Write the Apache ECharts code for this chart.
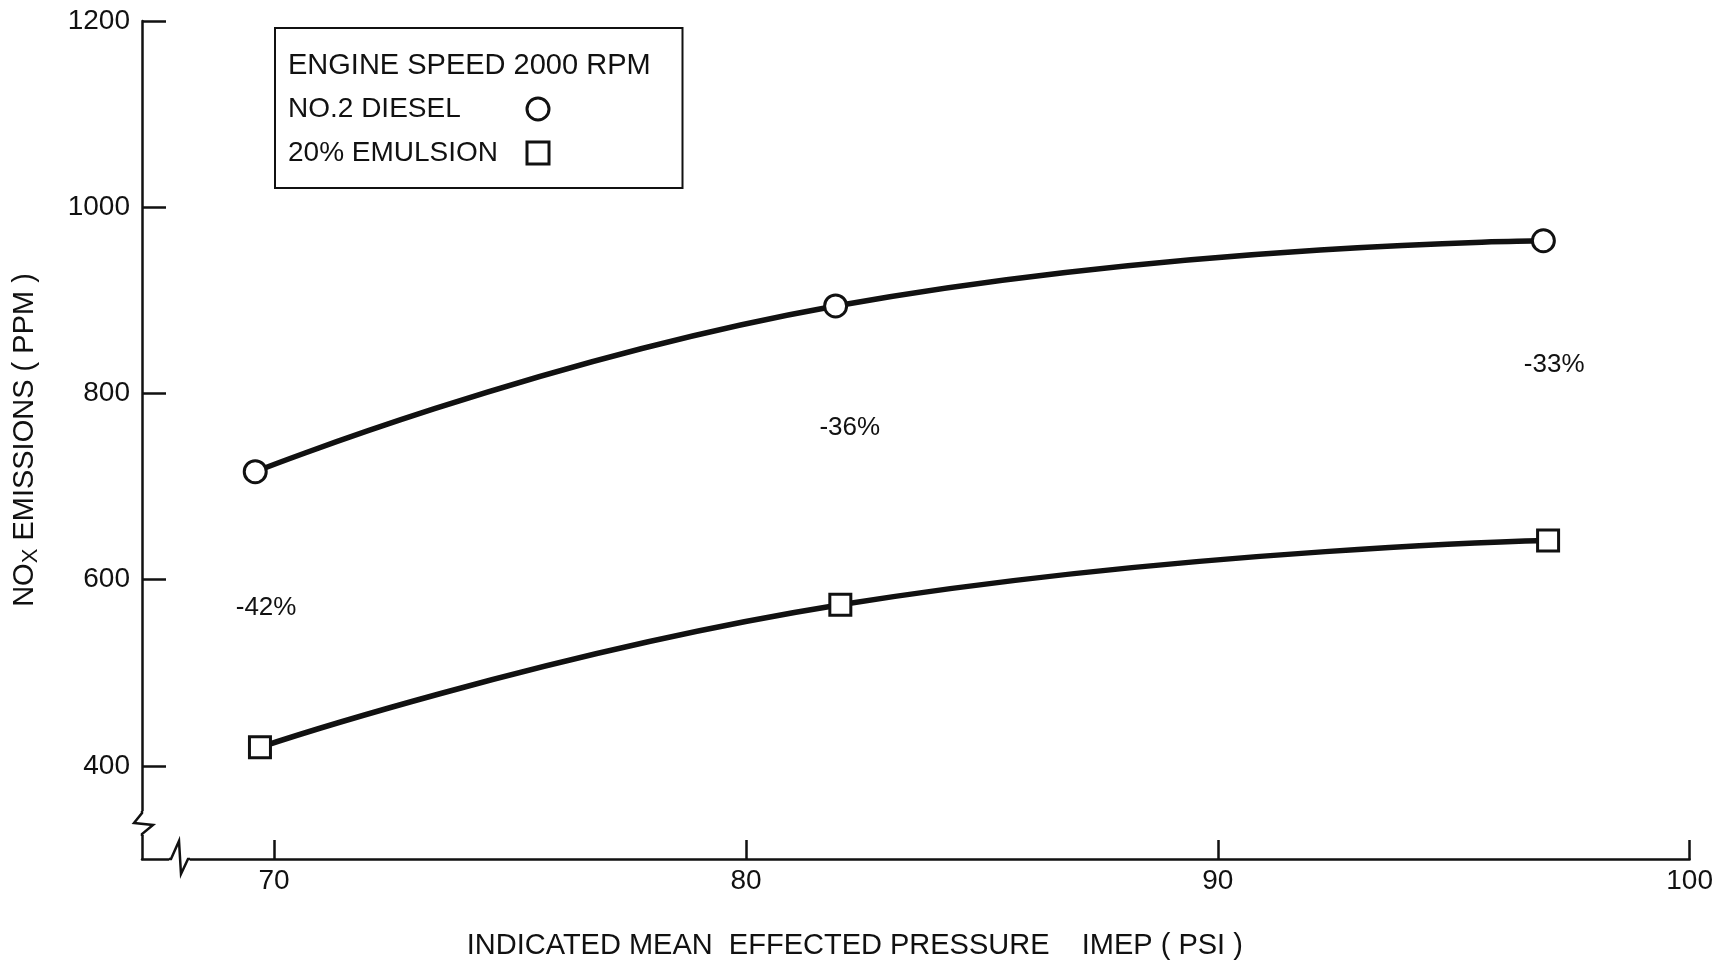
<!DOCTYPE html>
<html>
<head>
<meta charset="utf-8">
<title>NOx emissions vs IMEP</title>
<script src="https://cdn.jsdelivr.net/npm/echarts@6/dist/echarts.min.js"></script>
<style>
  html, body { margin: 0; padding: 0; background: #fff; }
  #main { width: 1716px; height: 969px; }
</style>
</head>
<body>
<div id="main"></div>
<script>
  // data
  var xTicks = [70, 80, 90, 100];
  var yTicks = [400, 600, 800, 1000, 1200];
  var dieselX = [69.6, 81.9, 96.9];
  var dieselY = [716, 894, 964];
  var emulsionX = [69.7, 82.0, 97.0];
  var emulsionY = [420, 573, 642];
  var noteText = ['-42%', '-36%', '-33%'];
  var noteX = [69.83, 82.2, 97.13];
  var noteY = [570, 763, 831];

  var xMin = 67.2, xMax = 100, yMin = 300, yMax = 1200;
  var ink = '#111';
  var font = '"Liberation Sans", Arial, sans-serif';

  function pairs(xs, ys) {
    return xs.map(function (x, i) { return [x, ys[i]]; });
  }

  var myChart = echarts.init(document.getElementById('main'));

  var option = {
    animation: false,
    backgroundColor: '#fff',
    textStyle: { fontFamily: font, color: ink },
    title: {
      text: 'ENGINE SPEED 2000 RPM',
      left: 288,
      top: 51,
      padding: 0,
      textStyle: { fontSize: 29, fontWeight: 'normal', color: ink, fontFamily: font }
    },
    legend: {
      data: [
        { name: 'NO.2 DIESEL', icon: 'circle' },
        { name: '20% EMULSION', icon: 'rect' }
      ],
      orient: 'vertical',
      align: 'right',
      left: 275,
      top: 28,
      padding: [67, 132, 21, 13],
      itemGap: 16,
      itemWidth: 22,
      itemHeight: 22,
      borderColor: ink,
      borderWidth: 2,
      selectedMode: false,
      itemStyle: { color: '#fff', borderColor: ink, borderWidth: 3 },
      formatter: function (name) { return '{t|' + name + '}'; },
      textStyle: {
        fontSize: 28, color: ink, fontFamily: font,
        rich: { t: { fontSize: 28, color: ink, fontFamily: font, width: 234, align: 'left' } }
      }
    },
    grid: { left: 142, top: 21, right: 25, bottom: 110 },
    xAxis: {
      type: 'value',
      min: xMin,
      max: xMax,
      name: 'INDICATED MEAN  EFFECTED PRESSURE    IMEP ( PSI )',
      nameLocation: 'middle',
      nameGap: 72,
      nameTextStyle: { fontSize: 29, color: ink, fontFamily: font, padding: [0, 122, 0, 0] },
      axisLine: { lineStyle: { color: ink, width: 2.5 } },
      axisTick: { inside: true, length: 19, customValues: xTicks, lineStyle: { color: ink, width: 2.5 } },
      axisLabel: { customValues: xTicks, fontSize: 28, color: ink, margin: 8 },
      splitLine: { show: false }
    },
    yAxis: {
      type: 'value',
      min: yMin,
      max: yMax,
      name: 'NO{sub|X} EMISSIONS ( PPM )',
      nameLocation: 'middle',
      nameRotate: 90,
      nameGap: 100,
      nameTextStyle: {
        fontSize: 29, color: ink, fontFamily: font,
        rich: { sub: { fontSize: 22, color: ink, fontFamily: font, padding: [12, 0, 0, 0] } }
      },
      axisLine: { lineStyle: { color: ink, width: 2.5 } },
      axisTick: { inside: true, length: 24, customValues: yTicks, lineStyle: { color: ink, width: 2.5 } },
      axisLabel: {
        customValues: yTicks, fontSize: 28, color: ink, margin: 12,
        formatter: function (v) { return String(v); }
      },
      splitLine: { show: false }
    },
    series: [
      {
        name: 'NO.2 DIESEL',
        type: 'line',
        data: pairs(dieselX, dieselY),
        smooth: true,
        symbol: 'circle',
        symbolSize: 22,
        itemStyle: { color: '#fff', borderColor: ink, borderWidth: 3 },
        lineStyle: { color: ink, width: 5.5 },
        z: 3
      },
      {
        name: '20% EMULSION',
        type: 'line',
        data: pairs(emulsionX, emulsionY),
        smooth: true,
        symbol: 'rect',
        symbolSize: 21,
        itemStyle: { color: '#fff', borderColor: ink, borderWidth: 3 },
        lineStyle: { color: ink, width: 5.5 },
        z: 3
      },
      {
        name: 'notes',
        type: 'scatter',
        symbolSize: 0,
        silent: true,
        itemStyle: { opacity: 1 },
        data: noteX.map(function (x, i) { return [x, noteY[i], noteText[i]]; }),
        label: {
          show: true,
          position: 'inside',
          fontSize: 26,
          color: ink,
          formatter: function (p) { return p.value[2]; }
        }
      }
    ]
  };

  myChart.setOption(option);

  // axis break marks at the lower left corner
  var c = myChart.convertToPixel({ gridIndex: 0 }, [xMin, yMin]);
  var cx = c[0], cy = c[1];
  var brk = { stroke: ink, lineWidth: 2.5, fill: null };
  myChart.setOption({
    graphic: [
      { type: 'rect', shape: { x: cx - 6, y: cy - 48, width: 12, height: 24 }, style: { fill: '#fff' }, z: 10 },
      { type: 'polyline', shape: { points: [[cx, cy - 48], [cx, cy - 46], [cx - 8, cy - 36], [cx + 11, cy - 34], [cx, cy - 25], [cx, cy - 23]] }, style: brk, z: 11 },
      { type: 'rect', shape: { x: cx + 27, y: cy - 5, width: 21, height: 10 }, style: { fill: '#fff' }, z: 10 },
      { type: 'polyline', shape: { points: [[cx + 27, cy], [cx + 29, cy], [cx + 37, cy - 18], [cx + 39, cy + 15], [cx + 46, cy], [cx + 48, cy]] }, style: brk, z: 11 }
    ]
  });
</script>
</body>
</html>
